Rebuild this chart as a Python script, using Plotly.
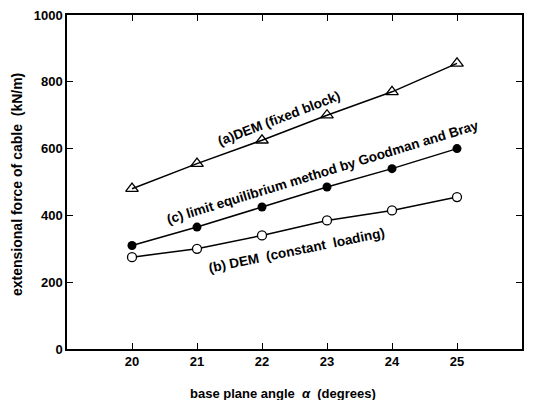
import plotly.graph_objects as go

angles = [20, 21, 22, 23, 24, 25]
dem_fixed = [480, 555, 625, 700, 770, 855]
limit_eq = [310, 365, 425, 485, 540, 600]
dem_const = [275, 300, 340, 385, 415, 455]
x_ticks = [20, 21, 22, 23, 24, 25]
y_ticks = [0, 200, 400, 600, 800, 1000]

FONT = "Liberation Sans Narrow, Arial Narrow, Liberation Sans, Arial, sans-serif"
TFONT = "Liberation Sans, Arial, sans-serif"

fig = go.Figure()
line = dict(color="black", width=1.5)
fig.add_trace(go.Scatter(x=angles, y=dem_fixed, mode="lines+markers", line=line,
                         marker=dict(symbol="triangle-up-open", size=11, color="black", line=dict(width=1.3))))
fig.add_trace(go.Scatter(x=angles, y=limit_eq, mode="lines+markers", line=line,
                         marker=dict(symbol="circle", size=9, color="black")))
fig.add_trace(go.Scatter(x=angles, y=dem_const, mode="lines+markers", line=line,
                         marker=dict(symbol="circle", size=9, color="white", line=dict(color="black", width=1.3))))

# plot area in window pixels: x 67..522, y 15..349
def px(xp, yp):
    return (xp - 67) / (522 - 67), (349 - yp) / (349 - 15)

def ann(xp, yp, text, angle, size=13):
    x, y = px(xp, yp)
    fig.add_annotation(x=x, y=y, xref="paper", yref="paper", text=text, showarrow=False,
                       xanchor="center", yanchor="middle",
                       textangle=angle, font=dict(family=TFONT, size=size, color="black"))

S = "\u00a0"
ann(279, 118, "<b>(a)DEM" + S + "(fixed" + S + "block)</b>", -21, 13.5)
ann(322, 172, "<b>(c) limit" + S + "equilibrium" + S + "method" + S + "by" + S + "Goodman" + S + "and" + S + "Bray</b>", -17, 13.5)
ann(296, 250, "<b>(b) DEM" + S + S + "(constant" + S + S + "loading)</b>", -11.5, 13.5)

# axis titles
ann(283, 393, "<b>base" + S + "plane" + S + "angle" + S + S + "<i>α</i>" + S + S + "(degrees)</b>", 0, 13)
ann(17, 185, "<b>extensional" + S + "force" + S + "of" + S + "cable" + S + S + "(kN/m)</b>", -90, 14)

axis_common = dict(showline=True, linecolor="black", linewidth=1.5, mirror="ticks",
                   ticks="inside", ticklen=6, tickcolor="black", tickwidth=1,
                   showgrid=False, zeroline=False, automargin=False,
                   ticklabeloverflow="allow",
                   tickfont=dict(family=FONT, size=13, color="black"))

fig.update_xaxes(range=[19, 26], tickvals=x_ticks, ticktext=[f"<b>{v}</b>" for v in x_ticks],
                 **axis_common)
fig.update_yaxes(range=[0, 1000], tickvals=y_ticks, ticktext=[f"<b>{v}</b>" for v in y_ticks],
                 **axis_common)

# page body has an 8px default margin; size/margins compensate for it
fig.update_layout(width=532, height=392, showlegend=False,
                  margin=dict(l=59, r=18, t=7, b=51),
                  plot_bgcolor="white", paper_bgcolor="white")

fig.write_html("out.html")
